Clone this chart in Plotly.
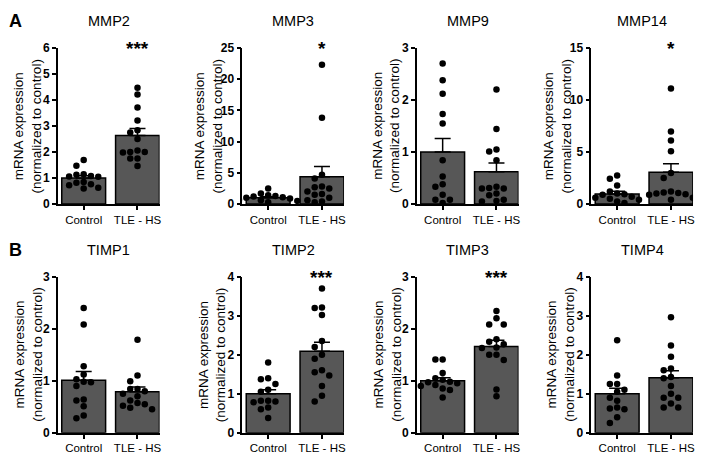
import plotly.graph_objects as go

# page is rendered with the default 8px body margin; geometry below is in page pixels
OFF = 8
W, H = 706 - OFF, 464 - OFF

genes = ["MMP2", "MMP3", "MMP9", "MMP14", "TIMP1", "TIMP2", "TIMP3", "TIMP4"]
groups = ["Control", "TLE - HS"]

control_vals = [
    [1.69, 1.47, 1.14, 1.13, 1.08, 1.06, 1.05, 0.85, 0.82, 0.76, 0.72, 0.63, 0.60],
    [2.5, 1.7, 1.4, 1.3, 1.2, 1.1, 1.0, 0.9, 0.7, 0.6, 0.5, 0.4, 0.3],
    [2.7, 2.38, 2.12, 1.73, 1.55, 0.84, 0.53, 0.38, 0.33, 0.18, 0.08, 0.08, 0.02],
    [2.75, 2.44, 1.78, 1.2, 1.0, 0.95, 0.9, 0.7, 0.6, 0.5, 0.4, 0.25, 0.1],
    [2.4, 2.08, 1.28, 1.12, 1.03, 0.98, 0.97, 0.9, 0.64, 0.62, 0.51, 0.33, 0.28],
    [1.8, 1.4, 1.37, 1.25, 1.1, 1.05, 0.82, 0.8, 0.78, 0.82, 0.65, 0.6, 0.38],
    [1.41, 1.41, 1.15, 1.05, 1.02, 0.98, 0.97, 0.95, 0.92, 0.9, 0.85, 0.82, 0.68],
    [2.37, 1.47, 1.25, 1.25, 1.1, 1.05, 0.9, 0.82, 0.65, 0.62, 0.6, 0.4, 0.25],
]
tle_vals = [
    [4.47, 4.21, 3.71, 3.21, 2.84, 2.75, 2.50, 2.06, 2.00, 1.98, 2.00, 1.75, 1.75, 1.46],
    [22.3, 13.8, 4.7, 4.1, 2.8, 2.7, 2.5, 2.0, 1.6, 1.5, 1.0, 0.6, 0.4, 0.3],
    [2.2, 1.44, 1.05, 1.01, 0.84, 0.33, 0.31, 0.30, 0.30, 0.2, 0.17, 0.08, 0.06, 0.05],
    [11.1, 6.97, 6.1, 5.06, 2.97, 2.5, 1.2, 1.1, 1.05, 1.0, 0.95, 0.9, 0.6, 0.4],
    [1.79, 1.1, 0.99, 0.84, 0.84, 0.8, 0.75, 0.7, 0.62, 0.57, 0.55, 0.52, 0.48, 0.45],
    [3.7, 3.21, 3.2, 3.02, 2.35, 2.2, 2.0, 1.9, 1.6, 1.55, 1.47, 1.2, 0.95, 0.8],
    [2.34, 2.2, 2.08, 2.08, 1.8, 1.75, 1.7, 1.64, 1.63, 1.5, 1.5, 1.4, 0.83, 0.7],
    [2.96, 2.24, 1.95, 1.65, 1.6, 1.43, 1.4, 1.2, 1.0, 0.9, 0.9, 0.75, 0.65, 0.65],
]
control_mean = [1.0, 1.0, 1.0, 0.97, 1.01, 1.0, 1.0, 1.0]
control_sem = [0.09, 0.17, 0.26, 0.25, 0.17, 0.10, 0.06, 0.14]
tle_mean = [2.63, 4.35, 0.62, 3.05, 0.79, 2.09, 1.66, 1.41]
tle_sem = [0.27, 1.65, 0.17, 0.82, 0.09, 0.23, 0.12, 0.18]
y_max = [6, 25, 3, 15, 3, 4, 3, 4]
y_dtick = [1, 5, 1, 5, 1, 1, 1, 1]
significance = ["***", "*", "", "*", "", "***", "***", ""]

FONT = "Liberation Sans, Arial, sans-serif"
BAR_COLOR = "#575757"

# layout geometry (page pixels)
col_left = [58, 243, 418, 593]
row_top = [42, 278]
PW, PH = 102, 161
ylab_off = [29.5, 33, 30, 33, 29, 30, 29, 30.5]
XR = [-0.48, 1.41]
px_per_unit = PW / (XR[1] - XR[0])
STEP = 7.3 / px_per_unit  # swarm column spacing in x units
DOT = 6.6


def fx(px):
    return (px - OFF) / W


def fy(py):
    return 1 - (py - OFF) / H


def swarm(vals, ymax):
    ppu = PH / ymax
    order = sorted(range(len(vals)), key=lambda i: -vals[i])
    placed = []
    offs = [0.0] * len(vals)
    seq = [0, -1, 1, -2, 2, -3, 3, -4, 4, -5, 5]
    for i in order:
        yp = vals[i] * ppu
        for k in seq:
            if all(not (c == k and abs(p - yp) < DOT) for c, p in placed):
                placed.append((k, yp))
                offs[i] = k * STEP
                break
    return offs


fig = go.Figure()
annotations = []

for idx, gene in enumerate(genes):
    r, c = divmod(idx, 4)
    n = idx + 1
    xa = "x" if n == 1 else f"x{n}"
    ya = "y" if n == 1 else f"y{n}"

    fig.add_trace(go.Bar(
        x=[0, 1], y=[control_mean[idx], tle_mean[idx]],
        width=0.815, marker=dict(color=BAR_COLOR, line=dict(color="black", width=1.5)),
        error_y=dict(type="data", symmetric=False,
                     array=[control_sem[idx], tle_sem[idx]], arrayminus=[0, 0],
                     color="black", thickness=1.5, width=8),
        xaxis=xa, yaxis=ya, showlegend=False, hoverinfo="skip"))

    for gi, vals in enumerate([control_vals[idx], tle_vals[idx]]):
        offs = swarm(vals, y_max[idx])
        fig.add_trace(go.Scatter(
            x=[gi + o for o in offs], y=vals, mode="markers",
            marker=dict(color="black", size=6.5),
            xaxis=xa, yaxis=ya, showlegend=False, hoverinfo="skip"))

    axis_common = dict(showline=True, linecolor="black", linewidth=1.5,
                       showgrid=False, zeroline=False, ticks="outside",
                       tickcolor="black", tickwidth=1.5, ticklen=4)
    fig.layout[("xaxis" if n == 1 else f"xaxis{n}")] = dict(
        domain=[fx(col_left[c]), fx(col_left[c] + PW)], anchor=ya, range=XR,
        tickvals=[0, 1], ticktext=groups,
        tickfont=dict(family=FONT, size=11.5, color="black"), **axis_common)
    fig.layout[("yaxis" if n == 1 else f"yaxis{n}")] = dict(
        domain=[fy(row_top[r] + PH), fy(row_top[r])], anchor=xa,
        range=[0, y_max[idx]], dtick=y_dtick[idx],
        tickfont=dict(family=FONT, size=12, color="black", weight="bold"),
        **axis_common)

    annotations.append(dict(
        text=gene, xref="paper", yref="paper",
        x=fx(col_left[c] + PW / 2), y=fy(row_top[r] - 28),
        showarrow=False, xanchor="center", yanchor="middle",
        font=dict(family=FONT, size=14.5, color="black")))
    annotations.append(dict(
        text="mRNA expression<br>(normalized to control)", textangle=-90,
        xref="paper", yref="paper",
        x=fx(col_left[c] - ylab_off[idx]), y=fy(row_top[r] + PH / 2),
        showarrow=False, xanchor="center", yanchor="middle",
        font=dict(family=FONT, size=13.5, color="black")))
    if significance[idx]:
        annotations.append(dict(
            text=significance[idx], xref=xa, yref="paper",
            x=1, y=fy(row_top[r] + 1),
            showarrow=False, xanchor="center", yanchor="middle",
            font=dict(family=FONT, size=19, color="black", weight="bold")))

for letter, yp in [("A", 14), ("B", 250)]:
    annotations.append(dict(
        text=letter, xref="paper", yref="paper", x=0, y=fy(yp),
        showarrow=False, xanchor="left", yanchor="middle", borderpad=0,
        font=dict(family=FONT, size=18, color="black", weight="bold")))

fig.update_layout(
    width=W, height=H, margin=dict(l=0, r=0, t=0, b=0),
    paper_bgcolor="white", plot_bgcolor="white",
    barmode="overlay", annotations=annotations)

fig.write_html("out.html")
